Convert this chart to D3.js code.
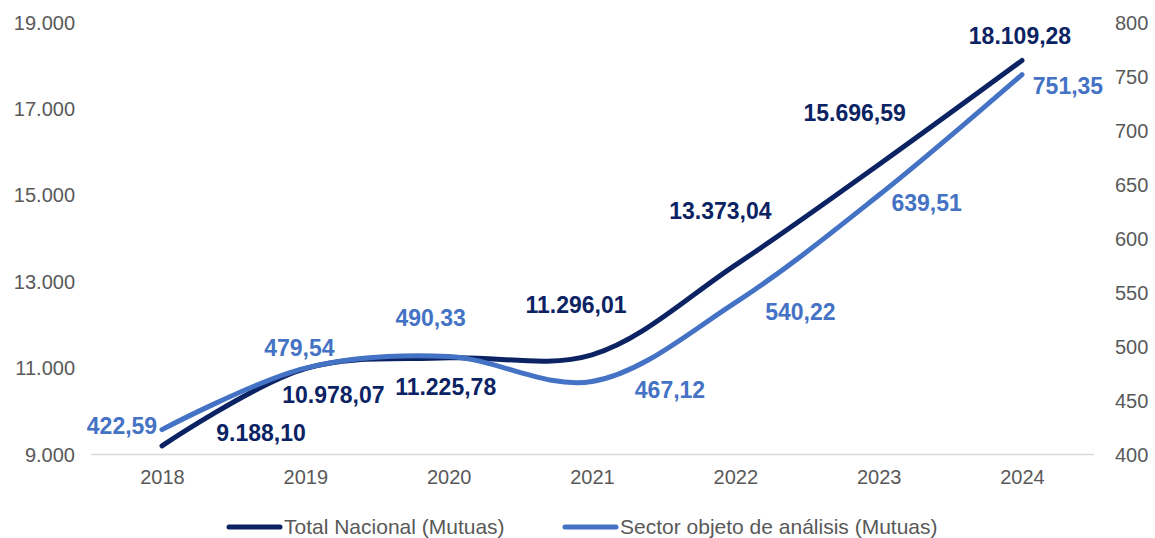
<!DOCTYPE html>
<html>
<head>
<meta charset="utf-8">
<script src="https://cdn.jsdelivr.net/npm/d3@7"></script>
<style>
  body { margin: 0; background: #fff; }
  svg { font-family: "Liberation Sans", Arial, sans-serif; }
</style>
</head>
<body>
<div id="chart"></div>
<script>
// data
var years = ['2018','2019','2020','2021','2022','2023','2024'];
var totalNacional = [9188.10, 10978.07, 11225.78, 11296.01, 13373.04, 15696.59, 18109.28];
var sectorAnalisis = [422.59, 479.54, 490.33, 467.12, 540.22, 639.51, 751.35];
var leftTicks = [9000, 11000, 13000, 15000, 17000, 19000];
var rightTicks = [400, 450, 500, 550, 600, 650, 700, 750, 800];
var seriesNames = ['Total Nacional (Mutuas)', 'Sector objeto de análisis (Mutuas)'];

// label nudges (px) from each point
var darkOff = [[99,-13],[28,26],[-3,29],[-16,-50],[-15,-54],[-24,-52],[-2,-25]];
var lightOff = [[-40,-4],[-6,-20],[-18,-38],[78,8],[65,9],[48,8],[46,11]];

var W = 1155, H = 538;
var dark = '#0b2363', light = '#4472c4', grey = '#595959';

var svg = d3.select('#chart').append('svg').attr('width', W).attr('height', H);

var x = d3.scalePoint().domain(years).range([162, 1022]);
var yL = d3.scaleLinear().domain([9000, 19000]).range([454, 22]);
var yR = d3.scaleLinear().domain([400, 800]).range([454, 22]);

function fmt(v){
  var s = v.toFixed(2).split('.');
  return s[0].replace(/\B(?=(\d{3})+(?!\d))/g, '.') + ',' + s[1];
}

// baseline
svg.append('line').attr('x1', 91).attr('x2', 1094).attr('y1', 454.5).attr('y2', 454.5)
  .attr('stroke', '#d9d9d9').attr('stroke-width', 1.3);

// axes
var axL = svg.append('g').attr('transform', 'translate(75,0)')
  .call(d3.axisLeft(yL).tickValues(leftTicks).tickSize(0).tickPadding(0)
    .tickFormat(function(d){ return d3.format(',')(d).replace(/,/g, '.'); }));
var axR = svg.append('g').attr('transform', 'translate(1115,0)')
  .call(d3.axisRight(yR).tickValues(rightTicks).tickSize(0).tickPadding(0));
var axX = svg.append('g').attr('transform', 'translate(0,454)')
  .call(d3.axisBottom(x).tickSize(0).tickPadding(16));
[axL, axR, axX].forEach(function(a){
  a.select('.domain').remove();
  a.selectAll('text').attr('fill', grey).style('font-size', '20px')
    .style('font-family', '"Liberation Sans", Arial, sans-serif');
});
axL.selectAll('text').attr('dy', '0.35em');
axR.selectAll('text').attr('dy', '0.35em');

var curve = d3.curveCatmullRom.alpha(0.5);
var lineL = d3.line().x(function(d, i){ return x(years[i]); }).y(function(d){ return yL(d); }).curve(curve);
var lineR = d3.line().x(function(d, i){ return x(years[i]); }).y(function(d){ return yR(d); }).curve(curve);

svg.append('path').datum(totalNacional).attr('d', lineL).attr('fill', 'none')
  .attr('stroke', dark).attr('stroke-width', 5).attr('stroke-linecap', 'round');
svg.append('path').datum(sectorAnalisis).attr('d', lineR).attr('fill', 'none')
  .attr('stroke', light).attr('stroke-width', 5).attr('stroke-linecap', 'round');

// data labels
svg.append('g').selectAll('text').data(totalNacional).join('text')
  .attr('x', function(d, i){ return x(years[i]) + darkOff[i][0]; })
  .attr('y', function(d, i){ return yL(d) + darkOff[i][1]; })
  .attr('dy', '0.35em').attr('text-anchor', 'middle')
  .attr('fill', dark).style('font-size', '23px').style('font-weight', 'bold')
  .text(fmt);
svg.append('g').selectAll('text').data(sectorAnalisis).join('text')
  .attr('x', function(d, i){ return x(years[i]) + lightOff[i][0]; })
  .attr('y', function(d, i){ return yR(d) + lightOff[i][1]; })
  .attr('dy', '0.35em').attr('text-anchor', 'middle')
  .attr('fill', light).style('font-size', '23px').style('font-weight', 'bold')
  .text(fmt);

// legend
var leg = [{x: 227, c: dark}, {x: 563, c: light}];
leg.forEach(function(l, i){
  svg.append('line').attr('x1', l.x + 2).attr('x2', l.x + 53).attr('y1', 527).attr('y2', 527)
    .attr('stroke', l.c).attr('stroke-width', 5).attr('stroke-linecap', 'round');
  svg.append('text').attr('x', l.x + 57).attr('y', 527).attr('dy', '0.35em')
    .attr('fill', grey).style('font-size', '21px').text(seriesNames[i]);
});
</script>
</body>
</html>
